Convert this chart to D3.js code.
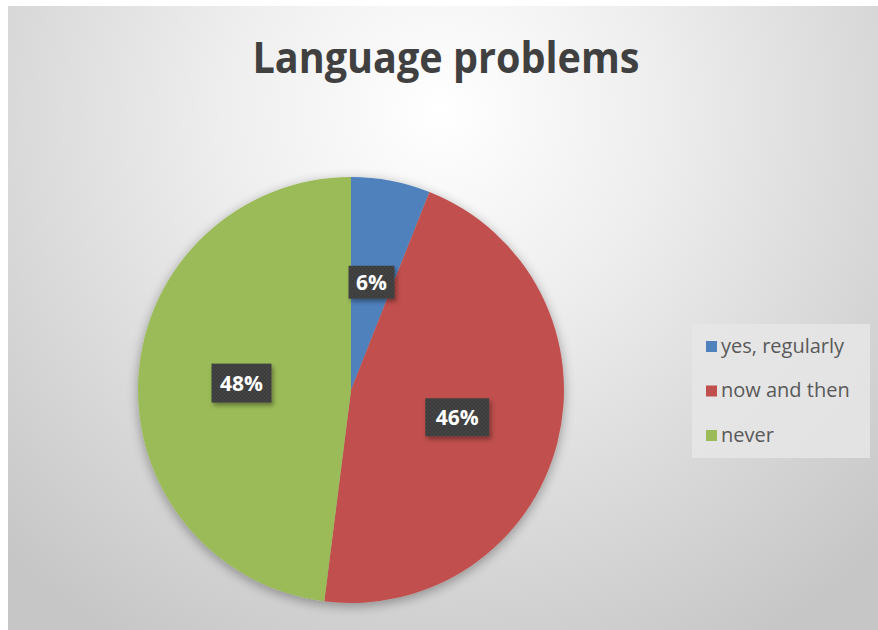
<!DOCTYPE html>
<html>
<head>
<meta charset="utf-8">
<script src="https://cdn.jsdelivr.net/npm/d3@7"></script>
<style>
  html, body { margin: 0; padding: 0; background: #ffffff; }
  svg { display: block; }
</style>
</head>
<body>
<svg id="chart" width="878" height="630"></svg>
<script>
// Survey answers: how often language problems occur
const categories = ["yes, regularly", "now and then", "never"];
const shares = [6, 46, 48];
const colors = ["#4F81BD", "#C0504D", "#9BBB59"];
const titleText = "Language problems";

const svg = d3.select("#chart");
const defs = svg.append("defs");

// Chart area background: light centre fading to grey edges
const bg = defs.append("radialGradient")
  .attr("id", "bgGrad")
  .attr("gradientUnits", "userSpaceOnUse")
  .attr("cx", 440).attr("cy", 110).attr("r", 620);
bg.append("stop").attr("offset", "0%").attr("stop-color", "#ffffff");
bg.append("stop").attr("offset", "35%").attr("stop-color", "#eeeeee");
bg.append("stop").attr("offset", "100%").attr("stop-color", "#c6c6c6");

// Soft shadow under the pie
const shadow = defs.append("filter").attr("id", "pieShadow")
  .attr("x", "-20%").attr("y", "-20%").attr("width", "140%").attr("height", "140%");
shadow.append("feGaussianBlur").attr("in", "SourceAlpha").attr("stdDeviation", 6).attr("result", "blur");
shadow.append("feOffset").attr("in", "blur").attr("dx", 0).attr("dy", 3).attr("result", "off");
shadow.append("feComponentTransfer").attr("in", "off").attr("result", "shade")
  .append("feFuncA").attr("type", "linear").attr("slope", 0.35);
const merge = shadow.append("feMerge");
merge.append("feMergeNode").attr("in", "shade");
merge.append("feMergeNode").attr("in", "SourceGraphic");

// Dotted texture for the data label boxes
const pat = defs.append("pattern").attr("id", "labelTex")
  .attr("patternUnits", "userSpaceOnUse").attr("width", 4).attr("height", 4);
pat.append("rect").attr("width", 4).attr("height", 4).attr("fill", "#3a3a3a");
pat.append("circle").attr("cx", 1).attr("cy", 1).attr("r", 0.9).attr("fill", "#4c4c4c");
pat.append("circle").attr("cx", 3).attr("cy", 3).attr("r", 0.9).attr("fill", "#4c4c4c");

const labelShadow = defs.append("filter").attr("id", "boxShadow")
  .attr("x", "-30%").attr("y", "-30%").attr("width", "160%").attr("height", "160%");
labelShadow.append("feDropShadow").attr("dx", 2).attr("dy", 3)
  .attr("stdDeviation", 2).attr("flood-color", "#000").attr("flood-opacity", 0.35);

svg.append("rect")
  .attr("x", 8).attr("y", 6).attr("width", 870).attr("height", 624)
  .attr("fill", "url(#bgGrad)");

// Title
svg.append("text")
  .attr("x", 446).attr("y", 73)
  .attr("text-anchor", "middle")
  .attr("font-family", "'Open Sans', 'Noto Sans', sans-serif")
  .attr("font-weight", 700)
  .attr("font-size", 43)
  .attr("textLength", 387)
  .attr("lengthAdjust", "spacingAndGlyphs")
  .attr("fill", "#404040")
  .text(titleText);

// Pie
const cx = 351, cy = 390, radius = 213;
const pie = d3.pie().sort(null).value(d => d);
const arcs = pie(shares);
const arc = d3.arc().innerRadius(0).outerRadius(radius);

const g = svg.append("g").attr("transform", `translate(${cx},${cy})`);
g.append("g").attr("filter", "url(#pieShadow)")
  .selectAll("path")
  .data(arcs)
  .join("path")
  .attr("d", arc)
  .attr("fill", (d, i) => colors[i]);

// Data labels
const labelArc = d3.arc().innerRadius(0).outerRadius(radius * 1.03);
const labelW = [46, 64, 60], labelH = [33, 38, 39];
const lab = g.selectAll("g.lab")
  .data(arcs)
  .join("g")
  .attr("class", "lab")
  .attr("transform", d => {
    const [x, y] = labelArc.centroid(d);
    return `translate(${x},${y})`;
  });
lab.append("rect")
  .attr("x", (d, i) => -labelW[i] / 2)
  .attr("y", (d, i) => -labelH[i] / 2)
  .attr("width", (d, i) => labelW[i])
  .attr("height", (d, i) => labelH[i])
  .attr("fill", "url(#labelTex)")
  .attr("filter", "url(#boxShadow)");
lab.append("text")
  .attr("text-anchor", "middle")
  .attr("dy", "0.36em")
  .attr("font-family", "'Open Sans', 'Noto Sans', sans-serif")
  .attr("font-weight", 700)
  .attr("font-size", 21)
  .attr("fill", "#ffffff")
  .text(d => d.data + "%");

// Legend
const legend = svg.append("g").attr("transform", "translate(692,324)");
legend.append("rect")
  .attr("width", 178).attr("height", 134)
  .attr("fill", "#e6e6e6").attr("opacity", 0.85);
const item = legend.selectAll("g.item")
  .data(categories)
  .join("g")
  .attr("class", "item")
  .attr("transform", (d, i) => `translate(14,${22 + i * 44.5})`);
item.append("rect")
  .attr("x", 0).attr("y", -5).attr("width", 11).attr("height", 11)
  .attr("fill", (d, i) => colors[i]);
item.append("text")
  .attr("x", 15).attr("y", 0)
  .attr("dy", "0.33em")
  .attr("font-family", "'Open Sans', 'Noto Sans', sans-serif")
  .attr("font-size", 20)
  .attr("fill", "#595959")
  .text(d => d);
</script>
</body>
</html>
